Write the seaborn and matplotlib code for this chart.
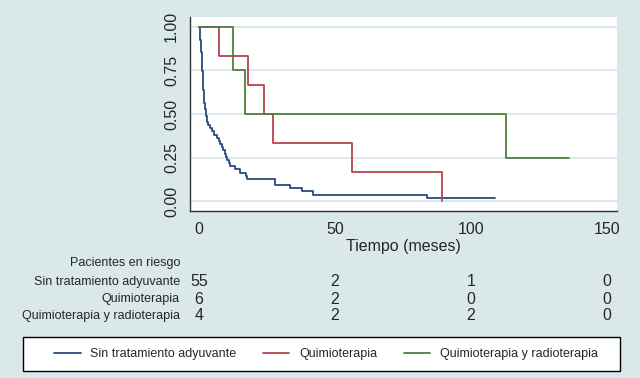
import pandas as pd
import matplotlib.pyplot as plt
import matplotlib.transforms as mtransforms
from matplotlib.lines import Line2D
from matplotlib.patches import Rectangle
import seaborn as sns

# Kaplan-Meier steps (time in months, survival after step)
grupos = ["Sin tratamiento adyuvante", "Quimioterapia", "Quimioterapia y radioterapia"]

t_sin = [0.0, 0.2, 0.4, 0.6, 0.8, 1.0, 1.2, 1.4, 1.6, 1.8, 2.0, 2.3, 2.5, 2.8,
         3.1, 3.4, 4.0, 4.9, 5.6, 6.5, 7.2, 7.8, 8.3, 8.8, 9.4, 9.9, 10.4, 10.9,
         11.4, 13.2, 15.1, 17.3, 17.6, 27.9, 33.5, 37.7, 42.0, 83.7, 109.0]
s_sin = [1.000, 0.964, 0.927, 0.891, 0.855, 0.800, 0.745, 0.691, 0.636, 0.600,
         0.564, 0.527, 0.491, 0.473, 0.455, 0.436, 0.418, 0.400, 0.382, 0.364,
         0.345, 0.327, 0.309, 0.291, 0.273, 0.255, 0.236, 0.218, 0.200, 0.182,
         0.164, 0.145, 0.127, 0.091, 0.073, 0.055, 0.036, 0.018, 0.018]

t_qt = [0.0, 7.5, 18.1, 24.0, 27.3, 56.4, 89.2]
s_qt = [1.000, 0.833, 0.667, 0.500, 0.333, 0.167, 0.000]

t_qtrt = [0.0, 12.6, 16.9, 112.9, 136.0]
s_qtrt = [1.00, 0.75, 0.50, 0.25, 0.25]

# numbers at risk
riesgo_t = [0, 50, 100, 150]
riesgo = {
    "Sin tratamiento adyuvante": [55, 2, 1, 0],
    "Quimioterapia": [6, 2, 0, 0],
    "Quimioterapia y radioterapia": [4, 2, 2, 0],
}

colores = ["#2b4b7c", "#b5434e", "#4f7f3b"]
fondo = "#dae8ea"

df = pd.concat([
    pd.DataFrame({"t": t_sin, "s": s_sin, "grupo": grupos[0]}),
    pd.DataFrame({"t": t_qt, "s": s_qt, "grupo": grupos[1]}),
    pd.DataFrame({"t": t_qtrt, "s": s_qtrt, "grupo": grupos[2]}),
])

sns.set_style("white")
plt.rcParams["font.family"] = ["Liberation Sans Narrow", "Liberation Sans", "DejaVu Sans"]

fig = plt.figure(figsize=(6.4, 3.78), dpi=100, facecolor=fondo)
ax = fig.add_axes([190 / 640, 1 - 211 / 378, 427 / 640, 194 / 378])
ax.set_facecolor("white")

sns.lineplot(data=df, x="t", y="s", hue="grupo", palette=colores,
             drawstyle="steps-post", estimator=None, sort=False,
             linewidth=1.3, legend=False, ax=ax, zorder=3)

ax.set_xlim(-3.3, 153.7)
ax.set_ylim(-0.057, 1.057)
ax.set_xticks([0, 50, 100, 150])
ax.set_yticks([0, 0.25, 0.5, 0.75, 1.0])
ax.set_yticklabels(["0.00", "0.25", "0.50", "0.75", "1.00"], rotation=90, va="center")
ax.grid(axis="y", color="#d3e5e8", linewidth=1.2, zorder=0)
ax.grid(axis="x", visible=False)
for side in ["top", "right"]:
    ax.spines[side].set_visible(False)
for side in ["left", "bottom"]:
    ax.spines[side].set_color("#333333")
    ax.spines[side].set_linewidth(1.0)
ax.tick_params(axis="both", direction="out", length=5, width=1, color="#333333",
               labelsize=11.5, pad=3)
ax.set_xlabel("Tiempo (meses)", fontsize=11.5, labelpad=1)
ax.set_ylabel("")

# risk table
trans = mtransforms.blended_transform_factory(ax.transData, fig.transFigure)
fig.text(180 / 640, 1 - 263 / 378, "Pacientes en riesgo", ha="right", va="center", fontsize=9)
filas_y = [282, 299, 316]
for g, y in zip(grupos, filas_y):
    fig.text(180 / 640, 1 - y / 378, g, ha="right", va="center", fontsize=9)
    for tt, n in zip(riesgo_t, riesgo[g]):
        ax.text(tt, 1 - y / 378, str(n), transform=trans, ha="center", va="center",
                fontsize=11.5, clip_on=False)

# legend box drawn separately so the padding matches the reference
fig.patches.append(Rectangle((23 / 640, 1 - 371 / 378), 597 / 640, 34 / 378,
                             transform=fig.transFigure, facecolor="white",
                             edgecolor="black", linewidth=1.0, zorder=1))
handles = [Line2D([], [], color=c, linewidth=1.3) for c in colores]
leg = fig.legend(handles, grupos, loc="center", ncol=3,
                 bbox_to_anchor=(326 / 640, 1 - 354 / 378),
                 frameon=False, fontsize=9, handlelength=2.1, handletextpad=0.8,
                 columnspacing=2.1, borderaxespad=0)
leg.set_zorder(2)

fig.savefig("out.png", dpi=100, facecolor=fondo)
